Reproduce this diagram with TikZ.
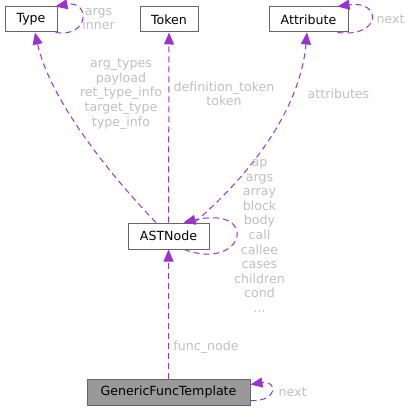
\documentclass[tikz,border=0pt]{standalone}
\usepackage{fontspec}
\setmainfont{DejaVu Sans}
\usetikzlibrary{arrows.meta,calc}
\definecolor{edgec}{HTML}{9A32CD}
\definecolor{labc}{HTML}{BFBFBF}
\definecolor{bordc}{HTML}{666666}
\definecolor{fillc}{HTML}{999999}
\begin{document}
\begin{tikzpicture}[x=1pt,y=-1pt,
  box/.style={draw=bordc,line width=1pt,fill=white,inner sep=0pt,minimum height=25pt,font=\fontsize{12.6}{14.6}\selectfont},
  lab/.style={text=labc,align=center,inner sep=0pt,font=\fontsize{12.6}{14.6}\selectfont},
  rel/.style={draw=edgec,line width=1pt,dash pattern=on 6pt off 4pt,-{Triangle[length=12pt,width=10pt]}}]
\useasboundingbox (0,0) rectangle (411,411);
\node[box,minimum width=52pt] (type) at (31,19.5) {Type};
\node[box,minimum width=58pt] (token) at (169,19.5) {Token};
\node[box,minimum width=79pt] (attr) at (308.5,19.5) {Attribute};
\node[box,minimum width=81pt,minimum height=26pt] (ast) at (168.5,236) {ASTNode};
\node[box,minimum width=163pt,minimum height=26pt,fill=fillc] (gft) at (168.5,392) {GenericFuncTemplate};
% Type self loop
\draw[rel] ($(type.south east)+(-2,0)$) .. controls (90,38) and (90,0) .. ($(type.north east)+(-2,0)$);
\node[lab] (l1) at (98.5,19) {args\\inner};
% Attribute self loop
\draw[rel] ($(attr.south east)+(-11,0)$) .. controls (382,38) and (382,0) .. ($(attr.north east)+(-11,0)$);
\node[lab] (l2) at (390.5,19) {next};
% ASTNode -> Type
\draw[rel] ($(ast.north)+(-12.5,0)$) .. controls (110,175) and (50,100) .. ($(type.south)+(4,0)$);
\node[lab] (l3) at (121,94) {arg\_types\\payload\\ret\_type\_info\\target\_type\\type\_info};
% ASTNode -> Token
\draw[rel] (ast.north) -- (token.south);
\node[lab] (l4) at (224,94) {definition\_token\\token};
% ASTNode -> Attribute
\draw[rel] ($(ast.north)+(26,0)$) .. controls (250,175) and (300,110) .. ($(attr.south)+(-1.5,0)$);
\node[lab] (l5) at (338.5,94) {attributes};
% ASTNode self loop
\draw[rel] ($(ast.south)+(15.5,0)$) .. controls (245,272) and (260,205) .. ($(ast.north)+(15,0)$);
\node[lab] (l6) at (259.5,236) {ap\\args\\array\\block\\body\\call\\callee\\cases\\children\\cond\\...};
% GFT -> ASTNode
\draw[rel] (gft.north) -- (ast.south);
\node[lab] (l7) at (206,347) {func\_node};
% GFT self loop
\draw[rel] ($(gft.south east)+(0,-5)$) .. controls (278,402) and (278,380) .. ($(gft.north east)+(0,6)$);
\node[lab] (l8) at (292.5,392) {next};
\end{tikzpicture}
\end{document}
